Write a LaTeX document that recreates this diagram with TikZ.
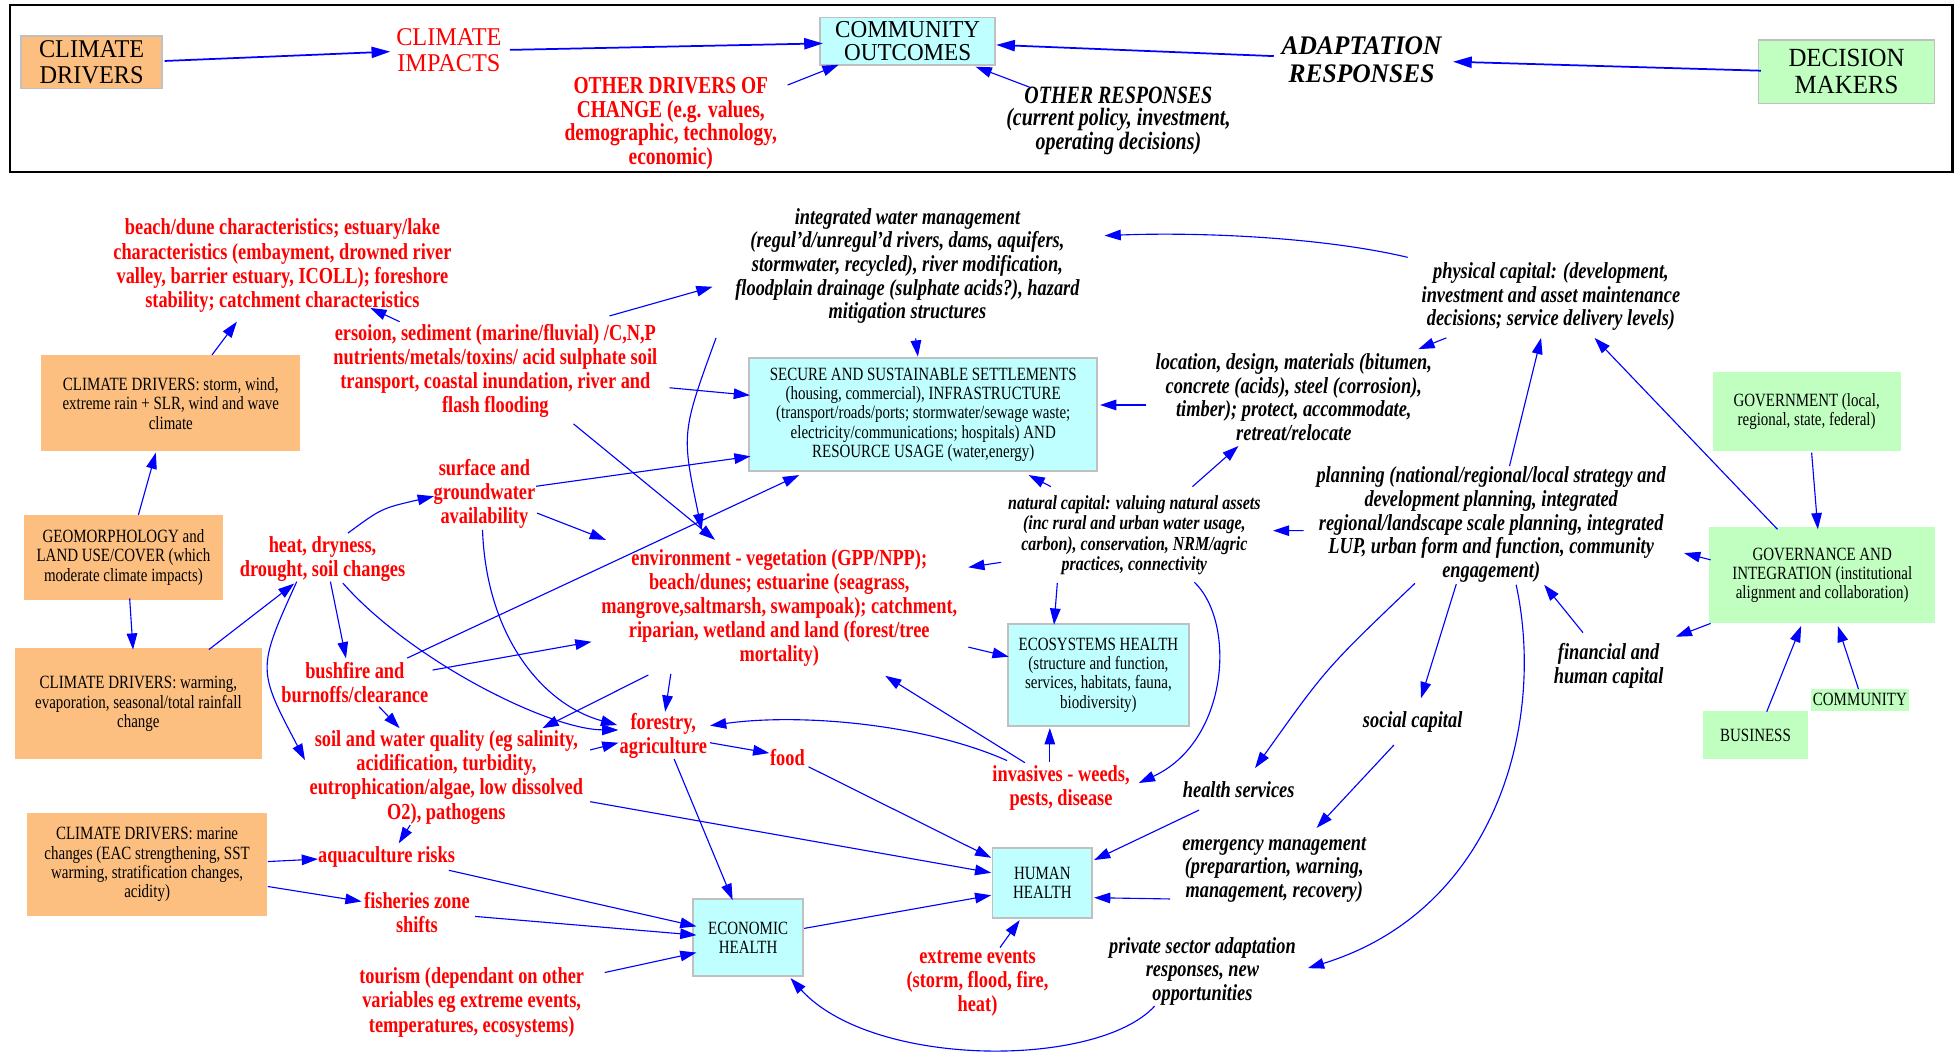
\documentclass[tikz,border=0pt]{standalone}
\usepackage{fontspec}
\setmainfont{Liberation Serif}[FakeStretch=0.8]
\newfontfamily\wideserif{Liberation Serif}[FakeStretch=0.95]
\usetikzlibrary{arrows.meta}
\definecolor{orF}{RGB}{253,191,128}
\definecolor{cyF}{RGB}{192,255,255}
\definecolor{grF}{RGB}{192,255,192}
\definecolor{bdG}{RGB}{192,192,192}
\newcommand\setfs[2]{\fontsize{#1}{#2}\selectfont}
\begin{document}
\begin{tikzpicture}[x=1pt,y=-1pt,
  lbl/.style={align=center, inner sep=0pt},
  redb/.style={lbl, text=red, font=\setfs{18.4}{19.3}\bfseries},
  blkbi/.style={lbl, font=\setfs{18.4}{19}\bfseries\itshape},
  bx/.style={align=center, inner sep=0pt, font=\setfs{15}{15.5}},
  obox/.style={bx, fill=orF},
  cbox/.style={bx, fill=cyF, draw=bdG, line width=1.5pt},
  gbox/.style={bx, fill=grF},
  arr/.style={draw=blue, line width=0.9pt, -{Triangle[length=13pt,width=8.5pt]}},
  tarr/.style={draw=blue, line width=1.4pt, -{Triangle[length=15pt,width=9pt]}},
]
\useasboundingbox (0,0) rectangle (1568,844);
\fill[white] (0,0) rectangle (1568,844);
\draw[line width=2pt] (8,4) rectangle (1566,138);

% ---------- top panel ----------
\node[bx, fill=orF, draw=bdG, line width=1.2pt, minimum width=113pt, minimum height=42pt, font=\wideserif\setfs{20.5}{20.5}] (cd) at (73.5,50) {CLIMATE\\DRIVERS};
\node[lbl, text=red, font=\wideserif\setfs{20.5}{21}] (ci) at (360,40) {CLIMATE\\IMPACTS};
\node[cbox, minimum width=140pt, minimum height=38pt, font=\wideserif\setfs{19.5}{18.5}] (co) at (728,33) {COMMUNITY\\OUTCOMES};
\node[lbl, text=red, font=\setfs{19.5}{19}\bfseries] (od) at (538,99) {OTHER DRIVERS OF\\CHANGE (e.g. values,\\demographic, technology,\\economic)};
\node[lbl, font=\wideserif\setfs{21.5}{22}\bfseries\itshape] (ar) at (1092,48) {ADAPTATION\\RESPONSES};
\node[bx, fill=grF, draw=bdG, line width=1.2pt, minimum width=141pt, minimum height=51pt, font=\wideserif\setfs{21}{22}] (dm) at (1481,57.5) {DECISION\\MAKERS};
\node[lbl, font=\setfs{20}{18}\bfseries\itshape] (or) at (897,97) {OTHER RESPONSES\\(current policy, investment,\\operating decisions)};

\draw[tarr] ([shift={(58.5,-1.1)}]cd.center) -- ([shift={(-47,1.4)}]ci.center);
\draw[tarr] ([shift={(49,0)}]ci.center) -- ([shift={(-68,1.8)}]co.center);
\draw[arr] ([shift={(93.7,-30.8)}]od.center) -- ([shift={(-55.4,19)}]co.center);
\draw[tarr] ([shift={(-70.4,-3)}]ar.center) -- ([shift={(71,3)}]co.center);
\draw[tarr] ([shift={(-68.7,-0.8)}]dm.center) -- ([shift={(73.4,1.5)}]ar.center);
\draw[arr] ([shift={(-71,-27)}]or.center) -- ([shift={(54.5,20.5)}]co.center);

% ---------- lower: boxes ----------
\node[obox, minimum width=208pt, minimum height=77pt] (cds) at (137,323.5) {CLIMATE DRIVERS: storm, wind,\\extreme rain + SLR, wind and wave\\climate};
\node[obox, minimum width=160pt, minimum height=68pt] (geo) at (99,447) {GEOMORPHOLOGY and\\LAND USE/COVER (which\\moderate climate impacts)};
\node[obox, minimum width=198pt, minimum height=89pt] (cdw) at (111,564.5) {CLIMATE DRIVERS: warming,\\evaporation, seasonal/total rainfall\\change};
\node[obox, minimum width=192pt, minimum height=83pt] (cdm) at (118,693.5) {CLIMATE DRIVERS: marine\\changes (EAC strengthening, SST\\warming, stratification changes,\\acidity)};
\node[cbox, minimum width=279pt, minimum height=91pt] (sss) at (740.5,332.5) {SECURE AND SUSTAINABLE SETTLEMENTS\\(housing, commercial), INFRASTRUCTURE\\(transport/roads/ports; stormwater/sewage waste;\\electricity/communications; hospitals) AND\\RESOURCE USAGE (water,energy)};
\node[cbox, minimum width=145pt, minimum height=82pt] (eh) at (881,541.5) {ECOSYSTEMS HEALTH\\(structure and function,\\services, habitats, fauna,\\biodiversity)};
\node[cbox, minimum width=80pt, minimum height=56pt] (hh) at (836,708) {HUMAN\\HEALTH};
\node[cbox, minimum width=88pt, minimum height=62pt] (ech) at (600,752) {ECONOMIC\\HEALTH};
\node[gbox, minimum width=151pt, minimum height=64pt] (gov) at (1449,330) {GOVERNMENT (local,\\regional, state, federal)};
\node[gbox, minimum width=181pt, minimum height=77pt] (gi) at (1461.5,461.5) {GOVERNANCE AND\\INTEGRATION (institutional\\alignment and collaboration)};
\node[gbox, minimum width=84pt, minimum height=38pt] (bus) at (1408,589.6) {BUSINESS};
\node[gbox, minimum width=78pt, minimum height=17.5pt] (com) at (1491.7,561.3) {COMMUNITY};

% ---------- lower: red impact labels ----------
\node[redb] (bd) at (226.5,213) {beach/dune characteristics; estuary/lake\\characteristics (embayment, drowned river\\valley, barrier estuary, ICOLL); foreshore\\stability; catchment characteristics};
\node[redb] (er) at (397.3,297.8) {ersoion, sediment (marine/fluvial) /C,N,P\\nutrients/metals/toxins/ acid sulphate soil\\transport, coastal inundation, river and\\flash flooding};
\node[redb] (sg) at (388.5,395.9) {surface and\\groundwater\\availability};
\node[redb] (hd) at (258.7,448.5) {heat, dryness,\\drought, soil changes};
\node[redb] (bb) at (284.6,547.4) {bushfire and\\burnoffs/clearance};
\node[redb] (sw) at (358,623.6) {soil and water quality (eg salinity,\\acidification, turbidity,\\eutrophication/algae, low dissolved\\O2), pathogens};
\node[redb] (env) at (625,487.6) {environment - vegetation (GPP/NPP);\\beach/dunes; estuarine (seagrass,\\mangrove,saltmarsh, swampoak); catchment,\\riparian, wetland and land (forest/tree\\mortality)};
\node[redb] (fa) at (532,590) {forestry,\\agriculture};
\node[redb] (food) at (631.5,607.7) {food};
\node[redb] (inv) at (851,632) {invasives - weeds,\\pests, disease};
\node[redb] (aq) at (310,687) {aquaculture risks};
\node[redb] (fz) at (334.4,732) {fisheries zone\\shifts};
\node[redb] (tour) at (378.3,804) {tourism (dependant on other\\variables eg extreme events,\\temperatures, ecosystems)};
\node[redb] (ee) at (784,789) {extreme events\\(storm, flood, fire,\\heat)};

% ---------- lower: black response labels ----------
\node[blkbi] (iwm) at (727.8,213.4) {integrated water management\\(regul'd/unregul'd rivers, dams, aquifers,\\stormwater, recycled), river modification,\\floodplain drainage (sulphate acids?), hazard\\mitigation structures};
\node[blkbi] (pc) at (1243.9,238) {physical capital: (development,\\investment and asset maintenance\\decisions; service delivery levels)};
\node[blkbi] (ldm) at (1037.7,318.6) {location, design, materials (bitumen,\\concrete (acids), steel (corrosion),\\timber); protect, accommodate,\\retreat/relocate};
\node[lbl, font=\setfs{16}{16.4}\bfseries\itshape] (nc) at (909.8,429.3) {natural capital: valuing natural assets\\(inc rural and urban water usage,\\carbon), conservation, NRM/agric\\practices, connectivity};
\node[blkbi] (plan) at (1196,420.7) {planning (national/regional/local strategy and\\development planning, integrated\\regional/landscape scale planning, integrated\\LUP, urban form and function, community\\engagement)};
\node[blkbi] (fh) at (1290.2,533.8) {financial and\\human capital};
\node[blkbi] (sc) at (1133,578.8) {social capital};
\node[blkbi] (hs) at (993.5,633.6) {health services};
\node[blkbi] (em) at (1022,697.6) {emergency management\\(preparartion, warning,\\management, recovery)};
\node[blkbi] (ps) at (964.4,779) {private sector adaptation\\responses, new\\opportunities};

% ---------- lower: connectors ----------
\draw[arr] ([shift={(33,-38.8)}]cds.center) -- ([shift={(-36.5,45)}]bd.center);
\draw[arr] ([shift={(-76.8,-39.8)}]er.center) -- ([shift={(70.5,34)}]bd.center);
\draw[arr] ([shift={(12,-34)}]geo.center) -- ([shift={(-12,39.5)}]cds.center);
\draw[arr] ([shift={(91.5,-44.4)}]er.center) -- ([shift={(-156.3,16.6)}]iwm.center);
\draw[arr] ([shift={(139.7,13.2)}]er.center) -- ([shift={(-139,-15.5)}]sss.center);
\draw[arr] ([shift={(41.5,-5.9)}]sg.center) -- ([shift={(-138.5,33.5)}]sss.center);
\draw[arr] ([shift={(62.7,42.2)}]er.center) -- ([shift={(-51.5,-54.6)}]env.center);
\draw[arr] ([shift={(-153.5,57.6)}]iwm.center) .. controls (546.5,347.3) .. ([shift={(-62.2,-62.6)}]env.center);
\draw[arr] ([shift={(42.2,15.6)}]sg.center) -- ([shift={(-139,-54.6)}]env.center);
\draw[arr] ([shift={(-1.5,29.1)}]sg.center) .. controls (390,510) and (435,565) .. ([shift={(-37,-8.5)}]fa.center);
\draw[arr] ([shift={(20.3,-20.9)}]hd.center) .. controls (306,407.7) .. ([shift={(-40.5,2.1)}]sg.center);
\draw[arr] ([shift={(56.5,-43.5)}]cdw.center) -- ([shift={(-22.7,19.5)}]hd.center);
\draw[arr] ([shift={(5,33)}]geo.center) -- ([shift={(-4.3,-43.5)}]cdw.center);
\draw[arr] ([shift={(6.3,18)}]hd.center) -- ([shift={(-7.1,-19.4)}]bb.center);
\draw[arr] ([shift={(-20.7,18)}]hd.center) .. controls (206.2,536.7) .. ([shift={(-113.4,-14)}]sw.center);
\draw[arr] ([shift={(16.3,19.2)}]hd.center) .. controls (330,530) and (440,585) .. ([shift={(-36,-4.5)}]fa.center);
\draw[arr] ([shift={(42,-19.6)}]bb.center) -- ([shift={(-99.5,48.5)}]sss.center);
\draw[arr] ([shift={(62.4,-10)}]bb.center) -- ([shift={(-150.6,27.1)}]env.center);
\draw[arr] ([shift={(19.4,19.4)}]bb.center) -- ([shift={(-37.5,-39.6)}]sw.center);
\draw[arr] ([shift={(-105,53.8)}]env.center) -- ([shift={(77,-39.6)}]sw.center);
\draw[arr] ([shift={(-87,53)}]env.center) -- ([shift={(1.5,-19.2)}]fa.center);
\draw[arr] ([shift={(115.3,-22.1)}]sw.center) -- ([shift={(-36,5.7)}]fa.center);
\draw[arr] ([shift={(115.4,19.4)}]sw.center) -- ([shift={(-41,-8)}]hh.center);
\draw[arr] ([shift={(8.7,18.8)}]fa.center) -- ([shift={(-12.4,-30.2)}]ech.center);
\draw[arr] ([shift={(96.8,-2.5)}]cdm.center) -- ([shift={(-55,2)}]aq.center);
\draw[arr] ([shift={(96.8,17.5)}]cdm.center) -- ([shift={(-44.4,-9)}]fz.center);
\draw[arr] ([shift={(-29,38.1)}]sw.center) -- ([shift={(9.8,-10.6)}]aq.center);
\draw[arr] ([shift={(50,11)}]aq.center) -- ([shift={(-41.4,-9)}]ech.center);
\draw[arr] ([shift={(46.6,3)}]fz.center) -- ([shift={(-41.4,-2)}]ech.center);
\draw[arr] ([shift={(106.7,-24)}]tour.center) -- ([shift={(-41.4,12)}]ech.center);
\draw[arr] ([shift={(37.5,5.7)}]fa.center) -- ([shift={(-14.5,-3.7)}]food.center);
\draw[arr] ([shift={(17,7.3)}]food.center) -- ([shift={(-41,-20)}]hh.center);
\draw[arr] ([shift={(45,-7.4)}]ech.center) -- ([shift={(-41,10)}]hh.center);
\draw[arr] ([shift={(18,-29)}]ee.center) -- ([shift={(-18.2,30)}]hh.center);
\draw[arr] ([shift={(-43.3,-22)}]inv.center) .. controls (740,580) and (640,572) .. ([shift={(37.5,-8)}]fa.center);
\draw[arr] ([shift={(-29,-20.3)}]inv.center) -- ([shift={(85,54.4)}]env.center);
\draw[arr] ([shift={(-9,-21)}]inv.center) -- ([shift={(-39,42.5)}]eh.center);
\draw[arr] ([shift={(151.6,31.4)}]env.center) -- ([shift={(-72,-14.8)}]eh.center);
\draw[arr] ([shift={(-106.8,21.7)}]nc.center) -- ([shift={(151.6,-32.6)}]env.center);
\draw[arr] ([shift={(-61.8,38.4)}]nc.center) -- ([shift={(-35.6,-40.5)}]eh.center);
\draw[arr] ([shift={(48.2,37.7)}]nc.center) .. controls (992,500) and (985,595) .. ([shift={(62.4,-4)}]inv.center);
\draw[arr] ([shift={(-31.8,16.1)}]hs.center) -- ([shift={(41.5,-18.2)}]hh.center);
\draw[arr] ([shift={(-83.5,23.4)}]em.center) -- ([shift={(41.5,12)}]hh.center);
\draw[arr] ([shift={(-38.4,28)}]ps.center) .. controls (880,857) and (700,857) .. ([shift={(34,32.5)}]ech.center);
\draw[arr] ([shift={(-61.2,47.2)}]plan.center) .. controls (1063.6,535.9) .. ([shift={(13.1,-17.6)}]hs.center);
\draw[arr] ([shift={(-28,47.8)}]plan.center) -- ([shift={(6.7,-18.8)}]sc.center);
\draw[arr] ([shift={(-15,18.7)}]sc.center) -- ([shift={(34,-33.6)}]em.center);
\draw[arr] ([shift={(20,48.3)}]plan.center) .. controls (1240,580) and (1200,730) .. ([shift={(84.6,-2.5)}]ps.center);
\draw[arr] ([shift={(-20.6,-26.4)}]fh.center) -- ([shift={(42.5,48.3)}]plan.center);
\draw[arr] ([shift={(-89.5,38.5)}]gi.center) -- ([shift={(53.8,-23.1)}]fh.center);
\draw[arr] ([shift={(-89.5,-12.5)}]gi.center) -- ([shift={(154.7,22.9)}]plan.center);
\draw[arr] ([shift={(9,-18.8)}]bus.center) -- ([shift={(-16.9,40.5)}]gi.center);
\draw[arr] ([shift={(-1.1,-8.6)}]com.center) -- ([shift={(12.5,40.5)}]gi.center);
\draw[arr] ([shift={(4,33)}]gov.center) -- ([shift={(-3.5,-37)}]gi.center);
\draw[arr] ([shift={(-35.9,-37)}]gi.center) -- ([shift={(35,33)}]pc.center);
\draw[arr] ([shift={(14.7,-46.9)}]plan.center) -- ([shift={(-7.9,33)}]pc.center);
\draw[arr] ([shift={(-83.9,33)}]pc.center) -- ([shift={(99.9,-38.6)}]ldm.center);
\draw[arr] ([shift={(-114.9,-31.6)}]pc.center) .. controls (1060,190) and (960,186) .. ([shift={(158.1,-24.4)}]iwm.center);
\draw[arr] ([shift={(-118.9,6.2)}]ldm.center) -- ([shift={(141.8,-7.7)}]sss.center);
\draw[arr] ([shift={(-66.9,-39)}]nc.center) -- ([shift={(84.5,48.5)}]sss.center);
\draw[arr] ([shift={(46.6,-39)}]nc.center) -- ([shift={(-44.4,39.1)}]ldm.center);
\draw[arr] ([shift={(-150.5,4.9)}]plan.center) -- ([shift={(111.2,-3.7)}]nc.center);
\draw[arr] ([shift={(6.6,58)}]iwm.center) -- ([shift={(-4.3,-46.5)}]sss.center);
\end{tikzpicture}
\end{document}
